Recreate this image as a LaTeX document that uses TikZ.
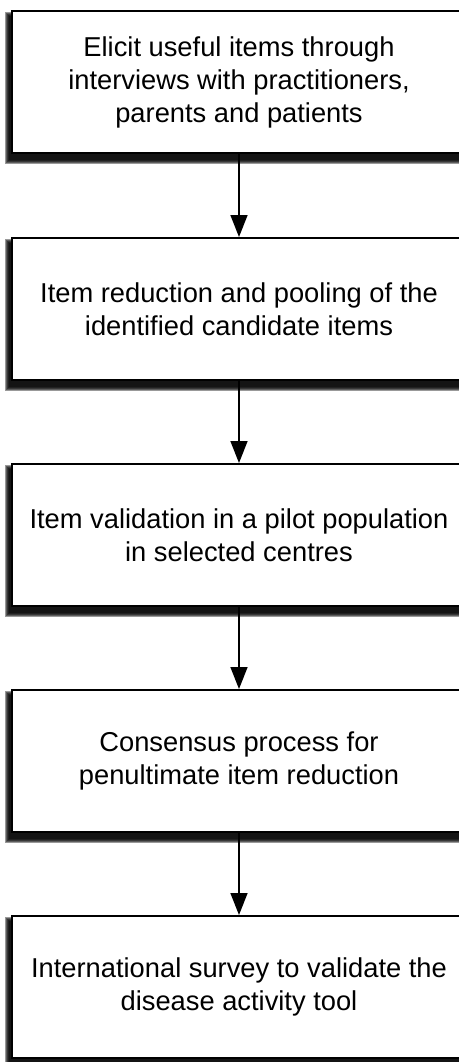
\documentclass[tikz,border=0pt]{standalone}
\usepackage{fontspec}
\setmainfont{Liberation Sans}
\usetikzlibrary{arrows.meta,backgrounds}
\begin{document}
\begin{tikzpicture}[x=1pt,y=1pt,
  stepbox/.style={draw=black, line width=2pt, fill=white, minimum width=454pt, minimum height=142pt, align=center, font=\fontsize{27.3}{33}\selectfont, inner sep=0pt},
  flow/.style={-{Triangle[length=22pt,width=17pt]}, line width=1.6pt},
  shade/.style={fill=black, opacity=0.4}]
\useasboundingbox (0,0) rectangle (458,-1062);
\node[stepbox] (b1) at (239,-82) {Elicit useful items through\\interviews with practitioners,\\parents and patients};
\node[stepbox] (b2) at (239,-309) {Item reduction and pooling of the\\identified candidate items};
\node[stepbox] (b3) at (239,-535) {Item validation in a pilot population\\in selected centres};
\node[stepbox] (b4) at (239,-761) {Consensus process for\\penultimate item reduction};
\node[stepbox] (b5) at (239,-987) {International survey to validate the\\disease activity tool};
\draw[flow] (b1) -- (b2);
\draw[flow] (b2) -- (b3);
\draw[flow] (b3) -- (b4);
\draw[flow] (b4) -- (b5);
\begin{scope}[on background layer]
\foreach \n in {b1,b2,b3,b4,b5}{
  \foreach \k in {0,...,4}{
    \pgfmathsetmacro\r{(4-\k)*1.0}
    \fill[shade] ([xshift=-2pt-\r pt,yshift=-6pt-\r pt]\n.south west) rectangle ([xshift=-2pt+\r pt,yshift=-6pt+\r pt]\n.north east);
  }
}
\end{scope}
\end{tikzpicture}
\end{document}
